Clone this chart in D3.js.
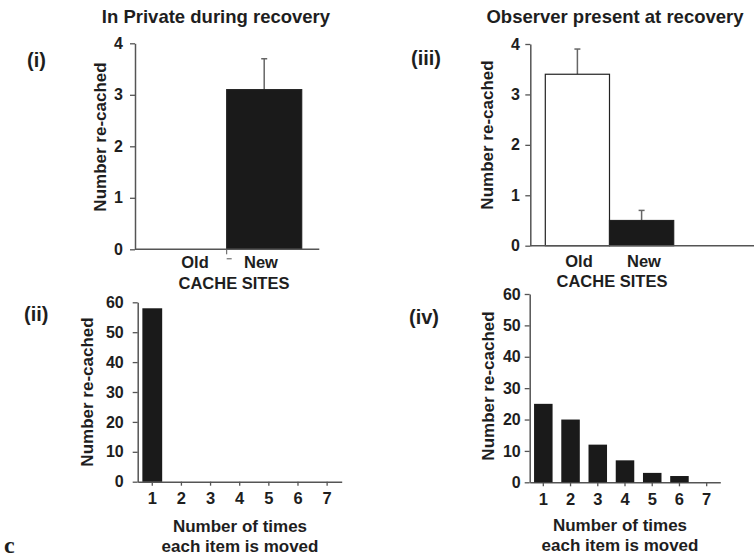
<!DOCTYPE html>
<html>
<head>
<meta charset="utf-8">
<script src="https://cdn.jsdelivr.net/npm/d3@7"></script>
<style>
  html, body { margin: 0; padding: 0; background: #fff; }
  svg { display: block; font-family: "Liberation Sans", Arial, sans-serif; font-weight: bold; }
  .serif { font-family: "Liberation Serif", "Times New Roman", serif; }
</style>
</head>
<body>
<svg id="fig" width="754" height="557"></svg>
<script>
// Cache sites: number of items re-cached in old vs new sites
const siteCategories = ["Old", "New"];
const privateMeans = [0, 3.1];
const privateErrors = [0, 0.6];
const observedMeans = [3.4, 0.5];
const observedErrors = [0.5, 0.2];
const siteTicks = [0, 1, 2, 3, 4];

// How often each item was moved before re-caching
const moveCounts = ["1", "2", "3", "4", "5", "6", "7"];
const privateMoves = [58, 0, 0, 0, 0, 0, 0];
const observedMoves = [25, 20, 12, 7, 3, 2, 0];
const moveTicks = [0, 10, 20, 30, 40, 50, 60];

const svg = d3.select("#fig");
const AXIS = "#555";
const BAR = "#1a1a1a";
const INK = "#1e1e1e";
const SANS = "'Liberation Sans', Arial, sans-serif";

function styleTicks(g, size) {
  g.attr("font-size", size).attr("font-family", SANS).attr("font-weight", "bold");
  g.selectAll(".tick text").attr("fill", INK)
    .style("font-size", size + "px").style("font-weight", "bold").style("font-family", SANS);
}

function yAxis(g, y, ticks, pad) {
  g.call(d3.axisLeft(y).tickValues(ticks).tickSize(5).tickSizeOuter(0).tickPadding(pad).tickFormat(d3.format("d")));
  g.select(".domain").attr("stroke", AXIS).attr("stroke-width", 1.5);
  g.selectAll(".tick line").attr("stroke", AXIS).attr("stroke-width", 1.3);
  styleTicks(g, 16);
}

function yLabel(cx, cy) {
  svg.append("text").attr("transform", `translate(${cx},${cy}) rotate(-90)`)
    .attr("text-anchor", "middle").attr("fill", INK).style("font-size", "17px")
    .text("Number re-cached");
}

function text(x, y, s, size, anchor = "middle") {
  return svg.append("text").attr("x", x).attr("y", y).attr("text-anchor", anchor)
    .attr("fill", INK).style("font-size", size + "px").text(s);
}

// Top panels: bar with upward error bar for each cache site
function sitePanel(o) {
  const y = d3.scaleLinear().domain([0, 4]).range([o.y0, o.y4]);
  const x = d3.scaleBand().domain(siteCategories).range(o.band).padding(0);

  yAxis(svg.append("g").attr("transform", `translate(${o.axisX},0)`), y, siteTicks, o.pad);

  const g = svg.append("g");
  // error bars
  siteCategories.forEach((c, i) => {
    if (o.means[i] <= 0) return;
    const cx = x(c) + x.bandwidth() / 2;
    g.append("line").attr("x1", cx).attr("x2", cx)
      .attr("y1", y(o.means[i])).attr("y2", y(o.means[i] + o.errs[i]))
      .attr("stroke", "#666").attr("stroke-width", 1.5);
    g.append("line").attr("x1", cx - 3).attr("x2", cx + 3)
      .attr("y1", y(o.means[i] + o.errs[i])).attr("y2", y(o.means[i] + o.errs[i]))
      .attr("stroke", "#666").attr("stroke-width", 1.5);
  });
  // bars
  g.selectAll("rect").data(siteCategories.map((c, i) => ({ c, v: o.means[i], i })))
    .join("rect")
    .attr("x", d => x(d.c)).attr("width", x.bandwidth())
    .attr("y", d => y(d.v)).attr("height", d => y(0) - y(d.v))
    .attr("fill", d => o.fills[d.i])
    .attr("stroke", d => d.v > 0 ? "#222" : "none").attr("stroke-width", 1.2);

  // baseline
  svg.append("line").attr("x1", o.axisX).attr("x2", o.xEnd).attr("y1", y(0)).attr("y2", y(0))
    .attr("stroke", AXIS).attr("stroke-width", 1.5);

  siteCategories.forEach((c, i) => text(o.labelX[i], o.catY, c, 16.5));
  text(o.titleX, o.catY + 20.5, "CACHE SITES", 16.5);
  text(o.titleX0, 22.5, o.title, 18.5);
  yLabel(o.ylabX, o.ylabY);
  text(o.tagX, o.tagY, o.tag, 20, "start");
  return { x, y };
}

const pI = sitePanel({
  means: privateMeans, errs: privateErrors, fills: ["#fff", BAR],
  y0: 249.3, y4: 43.3, band: [151.7, 301.7], axisX: 135, xEnd: 319.3, pad: 7,
  labelX: [195, 261], catY: 268, titleX: 234, titleX0: 216,
  title: "In Private during recovery", ylabX: 106, ylabY: 137, tag: "(i)", tagX: 27, tagY: 67
});
// small mark at the boundary between the two site categories
svg.append("line").attr("x1", pI.x("New")).attr("x2", pI.x("New"))
  .attr("y1", pI.y(0)).attr("y2", pI.y(0) + 5).attr("stroke", AXIS).attr("stroke-width", 1);
svg.append("line").attr("x1", pI.x("New")).attr("x2", pI.x("New") + 5)
  .attr("y1", pI.y(0) + 9.5).attr("y2", pI.y(0) + 9.5).attr("stroke", AXIS).attr("stroke-width", 1);

sitePanel({
  means: observedMeans, errs: observedErrors, fills: ["#fff", BAR],
  y0: 245.7, y4: 44, band: [545.3, 673.7], axisX: 530.3, xEnd: 754, pad: 5.5,
  labelX: [579, 644], catY: 266.5, titleX: 612, titleX0: 615,
  title: "Observer present at recovery", ylabX: 493, ylabY: 135, tag: "(iii)", tagX: 411, tagY: 65
});

// Bottom panels: distribution of move counts
function movePanel(o) {
  const y = d3.scaleLinear().domain([0, 60]).range([o.y0, o.y60]);
  const x = d3.scaleBand().domain(moveCounts).range(o.band).paddingInner(0.32).paddingOuter(0.16);

  yAxis(svg.append("g").attr("transform", `translate(${o.band[0]},0)`), y, moveTicks, o.pad);

  const gx = svg.append("g").attr("transform", `translate(0,${o.y0})`)
    .call(d3.axisBottom(x).tickSize(4).tickSizeOuter(0).tickPadding(7));
  gx.select(".domain").attr("stroke", AXIS).attr("stroke-width", 1.5);
  gx.selectAll(".tick line").attr("stroke", AXIS).attr("stroke-width", 1.3);
  styleTicks(gx, 16.5);

  svg.append("g").selectAll("rect").data(moveCounts.map((c, i) => ({ c, v: o.values[i] })))
    .join("rect")
    .attr("x", d => x(d.c)).attr("width", x.bandwidth())
    .attr("y", d => y(d.v)).attr("height", d => y(0) - y(d.v))
    .attr("fill", BAR);

  text(o.xtX, o.xtY, "Number of times", 17);
  text(o.xtX, o.xtY + 20, "each item is moved", 17);
  yLabel(o.ylabX, o.ylabY);
  text(o.tagX, o.tagY, o.tag, 20, "start");
}

movePanel({
  values: privateMoves, y0: 481.7, y60: 302.3, band: [137.7, 341.7], pad: 9,
  xtX: 240, xtY: 532, ylabX: 93, ylabY: 392, tag: "(ii)", tagX: 24, tagY: 321
});
movePanel({
  values: observedMoves, y0: 482.3, y60: 294, band: [529.7, 720.3], pad: 4,
  xtX: 620, xtY: 530.5, ylabX: 494, ylabY: 386, tag: "(iv)", tagX: 409, tagY: 324
});

// figure part letter
svg.append("text").attr("class", "serif").attr("x", 4).attr("y", 552.5).attr("fill", INK)
  .style("font-size", "24px")
  .text("c");
</script>
</body>
</html>
